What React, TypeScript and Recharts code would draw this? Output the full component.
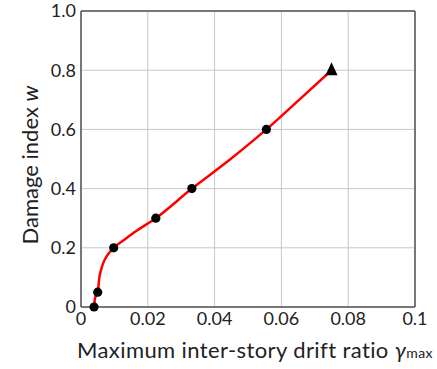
import {
  ComposedChart,
  Line,
  Scatter,
  XAxis,
  YAxis,
  CartesianGrid,
  ReferenceLine,
} from "recharts";

// fitted curve
const curveX = [0.0039, 0.0042, 0.005, 0.0055, 0.006, 0.0067, 0.0079, 0.0098, 0.0132, 0.0162, 0.0224, 0.0332, 0.0448, 0.0555, 0.0653, 0.075];
const curveY = [0, 0.03, 0.05, 0.1, 0.125, 0.15, 0.175, 0.2, 0.229, 0.254, 0.3, 0.4, 0.5, 0.6, 0.7, 0.8];

// measured points
const pointX = [0.0039, 0.005, 0.0098, 0.0224, 0.0332, 0.0555];
const pointY = [0, 0.05, 0.2, 0.3, 0.4, 0.6];

// ultimate point (triangle)
const ultX = [0.075];
const ultY = [0.8];

const xTicks = [0, 0.02, 0.04, 0.06, 0.08, 0.1];
const yTicks = [0, 0.2, 0.4, 0.6, 0.8, 1.0];

const curve = curveX.map((x, i) => ({ x, y: curveY[i] }));
const points = pointX.map((x, i) => ({ x, y: pointY[i] }));
const ult = ultX.map((x, i) => ({ x, y: ultY[i] }));

const font = "Lato, 'Open Sans', sans-serif";

const Triangle = (props: any) => {
  const { cx, cy } = props;
  return <polygon points={`${cx},${cy - 8} ${cx - 6},${cy + 5} ${cx + 6},${cy + 5}`} fill="#000" />;
};

const Dot = (props: any) => <circle cx={props.cx} cy={props.cy} r={4.6} fill="#000" />;

const fmtX = (v: number) => (v === 0 ? "0" : v === 0.1 ? "0.1" : v.toFixed(2));
const fmtY = (v: number) => (v === 0 ? "0" : v.toFixed(1));

export default function App() {
  return (
    <div style={{ position: "absolute", left: 0, top: 0, background: "#fff" }}>
      <ComposedChart
        width={437}
        height={369}
        margin={{ top: 11, right: 22, bottom: 0, left: 0 }}
        style={{ fontFamily: font }}
      >
        <CartesianGrid stroke="#c8c8c8" strokeWidth={1} />
        <XAxis
          type="number"
          dataKey="x"
          domain={[0, 0.1]}
          ticks={xTicks}
          tickFormatter={fmtX}
          allowDataOverflow
          height={62}
          tickLine={false}
          tickSize={0}
          tickMargin={5}
          axisLine={{ stroke: "#555", strokeWidth: 1.5 }}
          tick={{ fill: "#222", fontSize: 18, fontFamily: font }}
          label={{
            content: () => (
              <text
                x={255}
                y={358}
                textAnchor="middle"
                fill="#222"
                fontSize={22}
                letterSpacing={0.4}
                fontFamily={font}
              >
                Maximum inter-story drift ratio{" "}
                <tspan fontStyle="italic">γ</tspan>
                <tspan fontSize={14}>max</tspan>
              </text>
            ),
          }}
        />
        <YAxis
          type="number"
          dataKey="y"
          domain={[0, 1]}
          ticks={yTicks}
          tickFormatter={fmtY}
          width={81}
          tickLine={false}
          tickSize={0}
          tickMargin={5}
          axisLine={{ stroke: "#555", strokeWidth: 1.5 }}
          tick={{ fill: "#222", fontSize: 18, fontFamily: font }}
          label={{
            content: () => (
              <text
                x={29}
                y={165}
                transform="rotate(-90 29 165)"
                textAnchor="middle"
                dominantBaseline="central"
                fill="#222"
                fontSize={22}
                fontFamily={font}
              >
                Damage index <tspan fontStyle="italic">w</tspan>
              </text>
            ),
          }}
        />
        <ReferenceLine y={1} stroke="#555" strokeWidth={1.5} />
        <ReferenceLine x={0.1} stroke="#555" strokeWidth={1.5} />
        <Line
          data={curve}
          dataKey="y"
          type="monotone"
          stroke="#ff0000"
          strokeWidth={2.5}
          dot={false}
          activeDot={false}
          isAnimationActive={false}
        />
        <Scatter data={points} dataKey="y" shape={Dot} isAnimationActive={false} />
        <Scatter data={ult} dataKey="y" shape={Triangle} isAnimationActive={false} />
      </ComposedChart>
    </div>
  );
}
